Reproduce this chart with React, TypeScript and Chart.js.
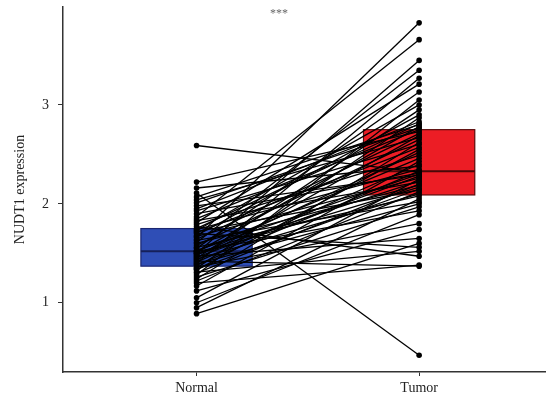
import React, { useEffect, useRef } from "react";
import { Chart, registerables } from "chart.js";

Chart.register(...registerables);

const categories = ["Normal", "Tumor"];
const normalValues = [
  0.89, 0.95, 1.0, 1.05, 1.12, 1.17, 1.2, 1.22, 1.24, 1.26, 1.28, 1.3, 1.31, 1.33, 1.34, 1.35, 1.36,
  1.38, 1.39, 1.4, 1.41, 1.42, 1.43, 1.44, 1.45, 1.46, 1.47, 1.48, 1.49, 1.5, 1.5, 1.51, 1.52, 1.52,
  1.53, 1.55, 1.56, 1.58, 1.6, 1.61, 1.63, 1.64, 1.66, 1.67, 1.68, 1.7, 1.71, 1.72, 1.73, 1.74, 1.75,
  1.77, 1.79, 1.81, 1.83, 1.85, 1.87, 1.9, 1.93, 1.95, 1.98, 2.01, 2.04, 2.07, 2.11, 2.16, 2.22, 2.59,
];
const tumorValues = [
  1.6, 2.05, 1.89, 2.25, 1.74, 2.43, 1.38, 2.12, 2.62, 1.97, 3.05, 2.2, 1.52, 2.55, 2.15, 2.87, 1.8,
  2.33, 2.0, 3.27, 2.4, 1.37, 2.69, 2.1, 2.95, 2.28, 1.65, 2.52, 2.17, 3.45, 2.23, 2.78, 1.93, 2.46,
  2.3, 3.13, 2.08, 2.65, 2.19, 3.35, 2.02, 2.71, 3.83, 2.26, 2.9, 1.56, 2.57, 2.14, 3.0, 2.35, 2.81,
  1.47, 2.49, 3.21, 2.22, 2.75, 3.66, 2.31, 2.6, 2.83, 2.29, 2.77, 2.67, 2.8, 0.47, 2.38, 2.73, 2.32,
];
const boxQ1 = [1.37, 2.09];
const boxMedian = [1.52, 2.33];
const boxQ3 = [1.75, 2.75];
const yTicks = [1, 2, 3];
const significance = "***";
const yTitle = "NUDT1 expression";

const boxFill = ["#2f4eb6", "#ec1d25"];
const boxEdge = ["#1b2670", "#5a0c0c"];
const medianColor = ["#16205a", "#4a0808"];
const axisColor = "#333333";
const textColor = "#222222";
const fontFamily = "'Liberation Serif', 'Times New Roman', serif";

const boxPlugin = {
  id: "boxPlugin",
  beforeDatasetsDraw(chart: any) {
    const { ctx, scales } = chart;
    const x = scales.x;
    const y = scales.y;
    categories.forEach((_, i) => {
      const cx = i + 1;
      const l = x.getPixelForValue(cx - 0.25);
      const r = x.getPixelForValue(cx + 0.25);
      const top = y.getPixelForValue(boxQ3[i]);
      const bot = y.getPixelForValue(boxQ1[i]);
      const med = y.getPixelForValue(boxMedian[i]);
      ctx.save();
      ctx.fillStyle = boxFill[i];
      ctx.fillRect(l, top, r - l, bot - top);
      ctx.strokeStyle = boxEdge[i];
      ctx.lineWidth = 1.2;
      ctx.strokeRect(l, top, r - l, bot - top);
      ctx.strokeStyle = medianColor[i];
      ctx.lineWidth = 2;
      ctx.beginPath();
      ctx.moveTo(l, med);
      ctx.lineTo(r, med);
      ctx.stroke();
      ctx.restore();
    });
  },
  afterDraw(chart: any) {
    const { ctx, scales } = chart;
    const px = scales.x.getPixelForValue(1.37);
    const py = scales.y.getPixelForValue(3.92);
    ctx.save();
    ctx.fillStyle = "#666666";
    ctx.font = `12px ${fontFamily}`;
    ctx.textAlign = "center";
    ctx.textBaseline = "middle";
    ctx.fillText(significance, px, py);
    ctx.restore();
  },
};

export default function App() {
  const canvasRef = useRef<HTMLCanvasElement | null>(null);

  useEffect(() => {
    if (!canvasRef.current) return;
    const datasets = normalValues.map((n, i) => ({
      data: [
        { x: 1, y: n },
        { x: 2, y: tumorValues[i] },
      ],
      showLine: true,
      borderColor: "#000000",
      backgroundColor: "#000000",
      borderWidth: 1.3,
      pointRadius: 2.8,
      pointBorderWidth: 0,
      pointHoverRadius: 2.8,
    }));
    const chart = new Chart(canvasRef.current, {
      type: "scatter",
      data: { datasets },
      options: {
        animation: false,
        responsive: false,
        maintainAspectRatio: false,
        layout: { autoPadding: false, padding: { top: 7, right: 0, left: 0, bottom: 0 } },
        plugins: { legend: { display: false }, tooltip: { enabled: false } },
        scales: {
          x: {
            type: "linear",
            min: 0.4,
            max: 2.57,
            afterBuildTicks: (s: any) => {
              s.ticks = categories.map((_, i) => ({ value: i + 1 }));
            },
            ticks: {
              callback: (v: any) => categories[Math.round(Number(v)) - 1] ?? "",
              font: { family: fontFamily, size: 14 },
              color: textColor,
              padding: 4,
              maxRotation: 0,
            },
            grid: { drawOnChartArea: false, drawTicks: true, tickLength: 4, color: axisColor },
            border: { color: axisColor, width: 1.5 },
            afterFit: (s: any) => {
              s.height = 32;
              s.paddingLeft = 0;
              s.paddingRight = 0;
            },
          },
          y: {
            type: "linear",
            min: 0.3,
            max: 3.99,
            afterBuildTicks: (s: any) => {
              s.ticks = yTicks.map((v) => ({ value: v }));
            },
            ticks: {
              font: { family: fontFamily, size: 14 },
              color: textColor,
              padding: 9,
            },
            grid: { drawOnChartArea: false, drawTicks: true, tickLength: 5, color: axisColor },
            border: { color: axisColor, width: 1.5 },
            title: {
              display: true,
              text: yTitle,
              font: { family: fontFamily, size: 14 },
              color: textColor,
              padding: { top: 12, bottom: 0 },
            },
            afterFit: (s: any) => {
              s.width = 63;
              s.paddingTop = 0;
              s.paddingBottom = 0;
            },
          },
        },
      },
      plugins: [boxPlugin],
    });
    return () => chart.destroy();
  }, []);

  return (
    <div style={{ position: "absolute", left: 0, top: 0, width: 546, height: 404, background: "#fff" }}>
      <canvas ref={canvasRef} width={546} height={404} style={{ display: "block", width: 546, height: 404 }} />
    </div>
  );
}
